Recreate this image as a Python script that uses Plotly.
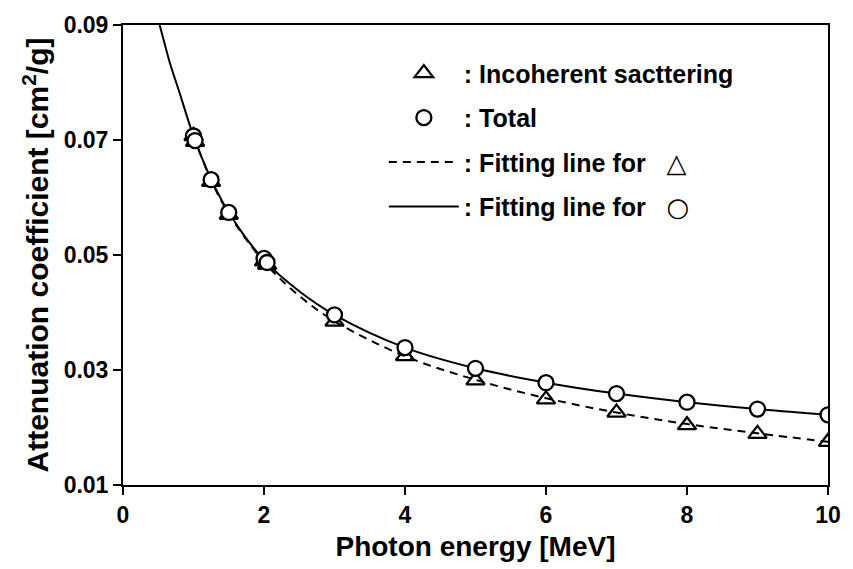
import plotly.graph_objects as go

# ---- data ----
energy = [1.0, 1.022, 1.25, 1.5, 2.0, 2.044, 3, 4, 5, 6, 7, 8, 9, 10]
total = [0.0707, 0.0699, 0.0631, 0.0574, 0.0494, 0.0487, 0.0396, 0.0339,
         0.0303, 0.0278, 0.0259, 0.0244, 0.0232, 0.0222]
incoherent = [0.0707, 0.0697, 0.0627, 0.0570, 0.0489, 0.0483, 0.0384, 0.0324,
              0.0282, 0.0249, 0.0226, 0.0204, 0.0189, 0.0175]

fit_total_x = [0.52, 0.6, 0.665, 0.8, 1.0, 1.25, 1.5, 2.0, 2.5, 3, 4, 5, 6, 7, 8, 9, 10]
fit_total_y = [0.090, 0.0863, 0.0834, 0.0783, 0.0707, 0.0632, 0.0574, 0.0491, 0.0437,
               0.0396, 0.0339, 0.0303, 0.0278, 0.0259, 0.0244, 0.0232, 0.0222]
fit_incoh_x = [1.0, 1.25, 1.5, 2.0, 2.5, 3, 4, 5, 6, 7, 8, 9, 10]
fit_incoh_y = [0.0707, 0.0630, 0.0572, 0.0488, 0.0429, 0.0385, 0.0324, 0.0283,
               0.0251, 0.0226, 0.0206, 0.0190, 0.0175]

x_ticks = [0, 2, 4, 6, 8, 10]
y_ticks = [0.01, 0.03, 0.05, 0.07, 0.09]

FONT = "Arial, Liberation Sans, sans-serif"
SYM = '<span style="font-family:DejaVu Sans;font-size:26px;font-weight:bold">{}</span>'

fig = go.Figure()

fig.add_trace(go.Scatter(
    x=energy, y=incoherent, mode="markers",
    marker=dict(symbol="triangle-up", size=16, color="white",
                line=dict(color="black", width=2.3)),
    name=": Incoherent sacttering", legendgroup="a", legendrank=1))
fig.add_trace(go.Scatter(
    x=fit_incoh_x, y=fit_incoh_y, mode="lines", line_shape="spline",
    line=dict(color="black", width=2, dash="8px,6px"),
    name=": Fitting line for   " + SYM.format("△"), legendgroup="c", legendrank=3))
fig.add_trace(go.Scatter(
    x=fit_total_x, y=fit_total_y, mode="lines", line_shape="spline",
    line=dict(color="black", width=2),
    name=": Fitting line for   " + SYM.format("○"), legendgroup="d", legendrank=4))
fig.add_trace(go.Scatter(
    x=energy, y=total, mode="markers",
    marker=dict(symbol="circle", size=15, color="white",
                line=dict(color="black", width=2.3)),
    name=": Total", legendgroup="b", legendrank=2))

axis_common = dict(
    showline=True, linecolor="black", linewidth=2, mirror=True,
    ticks="outside", ticklen=8, tickwidth=2, tickcolor="black",
    showgrid=False, zeroline=False,
    tickfont=dict(family=FONT, size=23, color="black", weight="bold"),
)

fig.update_xaxes(range=[0, 10], tickvals=x_ticks, ticktext=[str(v) for v in x_ticks],
                 title=dict(text="Photon energy [MeV]",
                            font=dict(family=FONT, size=28, color="black", weight="bold"),
                            standoff=10),
                 **axis_common)
fig.update_yaxes(range=[0.01, 0.09], tickvals=y_ticks,
                 ticktext=[f"{v:.2f}" for v in y_ticks],
                 title=dict(text="Attenuation coefficient [cm<sup>2</sup>/g]",
                            font=dict(family=FONT, size=30, color="black", weight="bold"),
                            standoff=6),
                 **axis_common)

fig.update_layout(
    width=853, height=569,
    margin=dict(l=123, r=18, t=22, b=81),
    paper_bgcolor="white", plot_bgcolor="white",
    showlegend=True,
    legend=dict(x=0.37, y=0.945, xanchor="left", yanchor="top",
                bgcolor="rgba(0,0,0,0)", borderwidth=0,
                font=dict(family=FONT, size=25, color="black", weight="bold"),
                tracegroupgap=9, itemwidth=70, traceorder="grouped"),
)

fig.write_html("out.html")
